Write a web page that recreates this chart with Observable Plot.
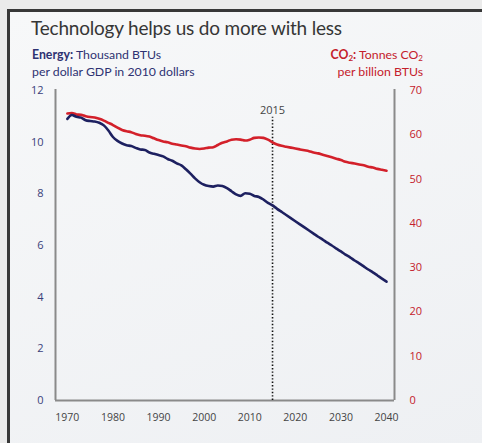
<!DOCTYPE html>
<html>
<head>
<meta charset="utf-8">
<script src="https://cdn.jsdelivr.net/npm/d3@7"></script>
<script src="https://cdn.jsdelivr.net/npm/@observablehq/plot@0.6"></script>
<style>
  html, body { margin: 0; padding: 0; background: #ebebeb; }
  #wrap { position: relative; width: 482px; height: 443px; overflow: hidden; background: #ebebeb; font-family: "Open Sans", sans-serif; }
  #frame { position: absolute; left: 7px; top: 9px; right: -5px; bottom: -5px; border-left: 3px solid #383838; border-top: 3px solid #383838; background: linear-gradient(160deg, #f7f8f9 0%, #eef0f3 100%); }
  #chart { position: absolute; left: 0; top: 0; }
  .t { position: absolute; white-space: nowrap; }
  #title { left: 31px; top: 16px; font-family: Lato, sans-serif; font-size: 19px; color: #363636; letter-spacing: -0.2px; }
  .sub { font-family: Lato, sans-serif; font-size: 12.3px; line-height: 17px; }
  #subL { left: 32px; top: 46px; color: #2e3272; }
  #subR { right: 59px; top: 46px; color: #c4202b; text-align: right; }
  b { font-weight: 700; }
  sub { font-size: 8px; vertical-align: -2px; line-height: 0; }
</style>
</head>
<body>
<div id="wrap">
  <div id="frame"></div>
  <div id="chart"></div>
  <div class="t" id="title">Technology helps us do more with less</div>
  <div class="t sub" id="subL"><b>Energy:</b> Thousand BTUs<br>per dollar GDP in 2010 dollars</div>
  <div class="t sub" id="subR"><b>CO<sub>2</sub>:</b> Tonnes CO<sub>2</sub><br>per billion BTUs</div>
</div>
<script>
const years = d3.range(1970, 2041);
const energy = [
  10.9, 11.05, 10.98, 10.95, 10.85, 10.82, 10.8, 10.75, 10.65, 10.45,
  10.2, 10.05, 9.95, 9.88, 9.85, 9.78, 9.72, 9.7, 9.6, 9.55,
  9.5, 9.45, 9.35, 9.28, 9.18, 9.1, 8.95, 8.78, 8.6, 8.45,
  8.35, 8.3, 8.28, 8.32, 8.3, 8.22, 8.1, 7.98, 7.92, 8.02,
  8.0, 7.92, 7.88, 7.78, 7.65, 7.55, 7.42, 7.3, 7.18, 7.06,
  6.94, 6.82, 6.7, 6.58, 6.46, 6.34, 6.23, 6.11, 6.0, 5.88,
  5.77, 5.65, 5.54, 5.42, 5.31, 5.19, 5.07, 4.96, 4.84, 4.72,
  4.6
];
const co2 = [
  64.8, 64.9, 64.6, 64.5, 64.2, 64.0, 63.9, 63.6, 63.2, 62.7,
  62.2, 61.6, 61.1, 60.8, 60.6, 60.2, 59.9, 59.8, 59.6, 59.2,
  58.8, 58.5, 58.3, 58.0, 57.8, 57.6, 57.4, 57.1, 56.9, 56.8,
  56.9, 57.1, 57.2, 57.7, 58.2, 58.5, 58.9, 59.0, 58.9, 58.7,
  58.9, 59.3, 59.4, 59.3, 58.9, 58.3, 57.8, 57.5, 57.3, 57.1,
  56.9, 56.7, 56.5, 56.3, 56.0, 55.8, 55.5, 55.2, 54.9, 54.6,
  54.3, 53.9, 53.7, 53.5, 53.3, 53.1, 52.8, 52.6, 52.3, 52.1,
  51.9
];
const xTicks = [1970, 1980, 1990, 2000, 2010, 2020, 2030, 2040];
const leftTicks = [0, 2, 4, 6, 8, 10, 12];
const rightTicks = [0, 10, 20, 30, 40, 50, 60, 70];
const leftMax = 12, rightMax = 70;
const xDomain = [1967.4, 2041.75];
const markerYear = 2015, markerTop = 10.96;

const scaleR = v => v * leftMax / rightMax;
const data = years.map((y, i) => ({year: y, energy: energy[i], co2: co2[i]}));

const navy = "#1d2060", red = "#d3202a", axisGray = "#8a8a8a";

const chart = Plot.plot({
  width: 482, height: 443,
  marginLeft: 55, marginRight: 88, marginTop: 90, marginBottom: 43,
  style: {background: "transparent", fontFamily: "'Open Sans', sans-serif", fontSize: "10.5px"},
  x: {domain: xDomain},
  y: {domain: [0, leftMax]},
  marks: [
    Plot.ruleX(xDomain, {y1: 0, y2: leftMax + 0.04, stroke: axisGray, strokeWidth: 2}),
    Plot.ruleY([0], {x1: xDomain[0], x2: xDomain[1], stroke: axisGray, strokeWidth: 2}),
    Plot.ruleX([markerYear], {y1: 0, y2: markerTop, stroke: "#111", strokeWidth: 1.6, strokeDasharray: "1.4,2"}),
    Plot.text([markerYear], {x: d => d, y: markerTop, text: d => String(d), dy: -7, fill: "#444", fontSize: 11}),
    Plot.line(data, {x: "year", y: d => scaleR(d.co2), stroke: red, strokeWidth: 2.6, curve: "monotone-x"}),
    Plot.line(data, {x: "year", y: "energy", stroke: navy, strokeWidth: 2.6, curve: "monotone-x"}),
    Plot.axisX({ticks: xTicks, tickFormat: d => String(d), tickSize: 0, tickPadding: 13, color: "#444", label: null}),
    Plot.axisY({ticks: leftTicks, tickSize: 0, tickPadding: 12, color: "#3a3f7a", label: null, fontSize: 11}),
    Plot.axisY({anchor: "right", ticks: rightTicks.map(scaleR), tickFormat: d => String(Math.round(d * rightMax / leftMax)), tickSize: 0, tickPadding: 15, color: "#c4202b", label: null, fontSize: 11})
  ]
});
document.getElementById("chart").appendChild(chart);
</script>
</body>
</html>
